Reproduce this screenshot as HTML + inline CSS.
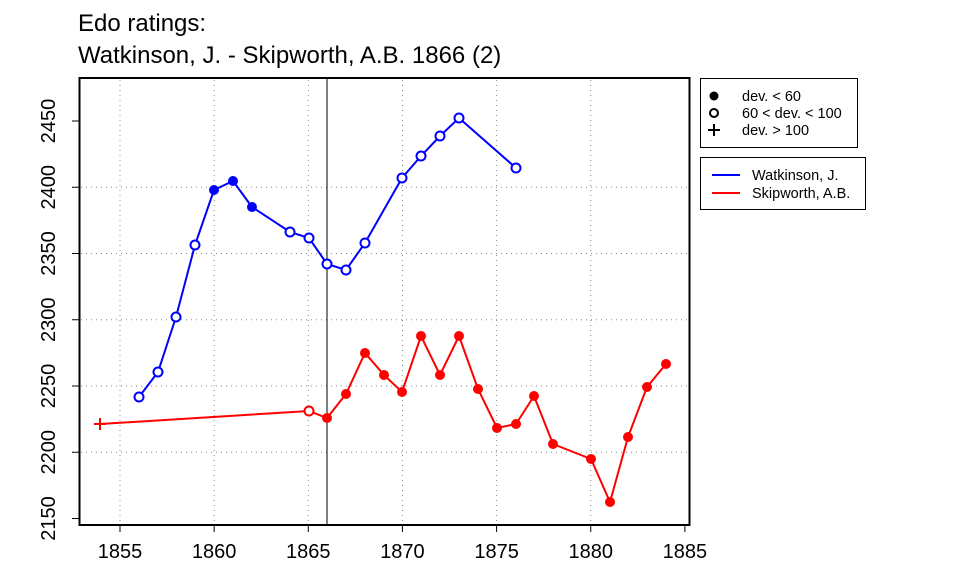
<!DOCTYPE html>
<html><head><meta charset="utf-8"><style>body{margin:0;background:#fff}svg{display:block}text{font-family:"Liberation Sans",Arial,sans-serif}</style></head>
<body>
<svg id="s" width="960" height="576" xmlns="http://www.w3.org/2000/svg">
<text x="78" y="31" font-size="24">Edo ratings:</text>
<text x="78" y="63" font-size="24">Watkinson, J. - Skipworth, A.B. 1866 (2)</text>
<g id="grid" stroke="#888" stroke-dasharray="1,4" stroke-width="1"></g>
<line x1="327" y1="78" x2="327" y2="525" stroke="#000" stroke-width="1"/>
<g id="ax"></g>
<rect x="79.5" y="78" width="610" height="447" fill="none" stroke="#000" stroke-width="2"/>
<g id="data"></g>
<rect x="700.5" y="78.5" width="157" height="69" fill="#fff" stroke="#000"/>
<circle cx="714" cy="96" r="4.5" fill="#000"/>
<circle cx="714" cy="113" r="4" fill="none" stroke="#000" stroke-width="2"/>
<path d="M708 130h12M714 124v12" stroke="#000" stroke-width="2"/>
<text x="742" y="101" font-size="14.5">dev. &lt; 60</text>
<text x="742" y="118" font-size="14.5">60 &lt; dev. &lt; 100</text>
<text x="742" y="135" font-size="14.5">dev. &gt; 100</text>
<rect x="700.5" y="157.5" width="165" height="52" fill="#fff" stroke="#000"/>
<line x1="712" y1="175" x2="740" y2="175" stroke="#00f" stroke-width="2"/>
<line x1="712" y1="193" x2="740" y2="193" stroke="#f00" stroke-width="2"/>
<text x="752" y="180" font-size="14.5">Watkinson, J.</text>
<text x="752" y="198" font-size="14.5">Skipworth, A.B.</text>
</svg>
<script>
const NS="http://www.w3.org/2000/svg";
function el(p,t,a,txt){const e=document.createElementNS(NS,t);for(const k in a)e.setAttribute(k,a[k]);if(txt)e.textContent=txt;document.getElementById(p).appendChild(e);return e;}
const X=y=>120+(y-1855)*18.83, Y=v=>121+(2450-v)*1.325;
for(let yr=1855;yr<=1885;yr+=5){const x=X(yr);if(yr<1885)el("grid","line",{x1:x,y1:80,x2:x,y2:523});
el("ax","line",{x1:x,y1:525,x2:x,y2:532,stroke:"#000"});el("ax","text",{x:x,y:558,"font-size":20,"text-anchor":"middle"},yr);}
for(let v=2150;v<=2450;v+=50){const y=Y(v);if(v>2150&&v<2450)el("grid","line",{x1:81,y1:y,x2:688,y2:y});
el("ax","line",{x1:72,y1:y,x2:79,y2:y,stroke:"#000"});el("ax","text",{x:55,y:y,"font-size":20,"text-anchor":"middle",transform:`rotate(-90 55 ${y})`},v);}
const blue=[[139,397,0],[158,372,0],[176,317,0],[195,245,0],[214,190,1],[233,181,1],[252,207,1],[290,232,0],[309,238,0],[327,264,0],[346,270,0],[365,243,0],[402,178,0],[421,156,0],[440,136,0],[459,118,0],[516,168,0]];
const red=[[100,424,2],[309,411,0],[327,418,1],[346,394,1],[365,353,1],[384,375,1],[402,392,1],[421,336,1],[440,375,1],[459,336,1],[478,389,1],[497,428,1],[516,424,1],[534,396,1],[553,444,1],[591,459,1],[610,502,1],[628,437,1],[647,387,1],[666,364,1]];
function ser(d,c){el("data","polyline",{points:d.map(p=>p[0]+","+p[1]).join(" "),fill:"none",stroke:c,"stroke-width":2});
d.forEach(p=>{if(p[2]==1)el("data","circle",{cx:p[0],cy:p[1],r:5,fill:c});else if(p[2]==0)el("data","circle",{cx:p[0],cy:p[1],r:4.5,fill:"#fff",stroke:c,"stroke-width":2});else el("data","path",{d:`M${p[0]-6} ${p[1]}h12M${p[0]} ${p[1]-6}v12`,stroke:c,"stroke-width":2});});}
ser(blue,"#00f");ser(red,"#f00");
</script>
</body></html>
